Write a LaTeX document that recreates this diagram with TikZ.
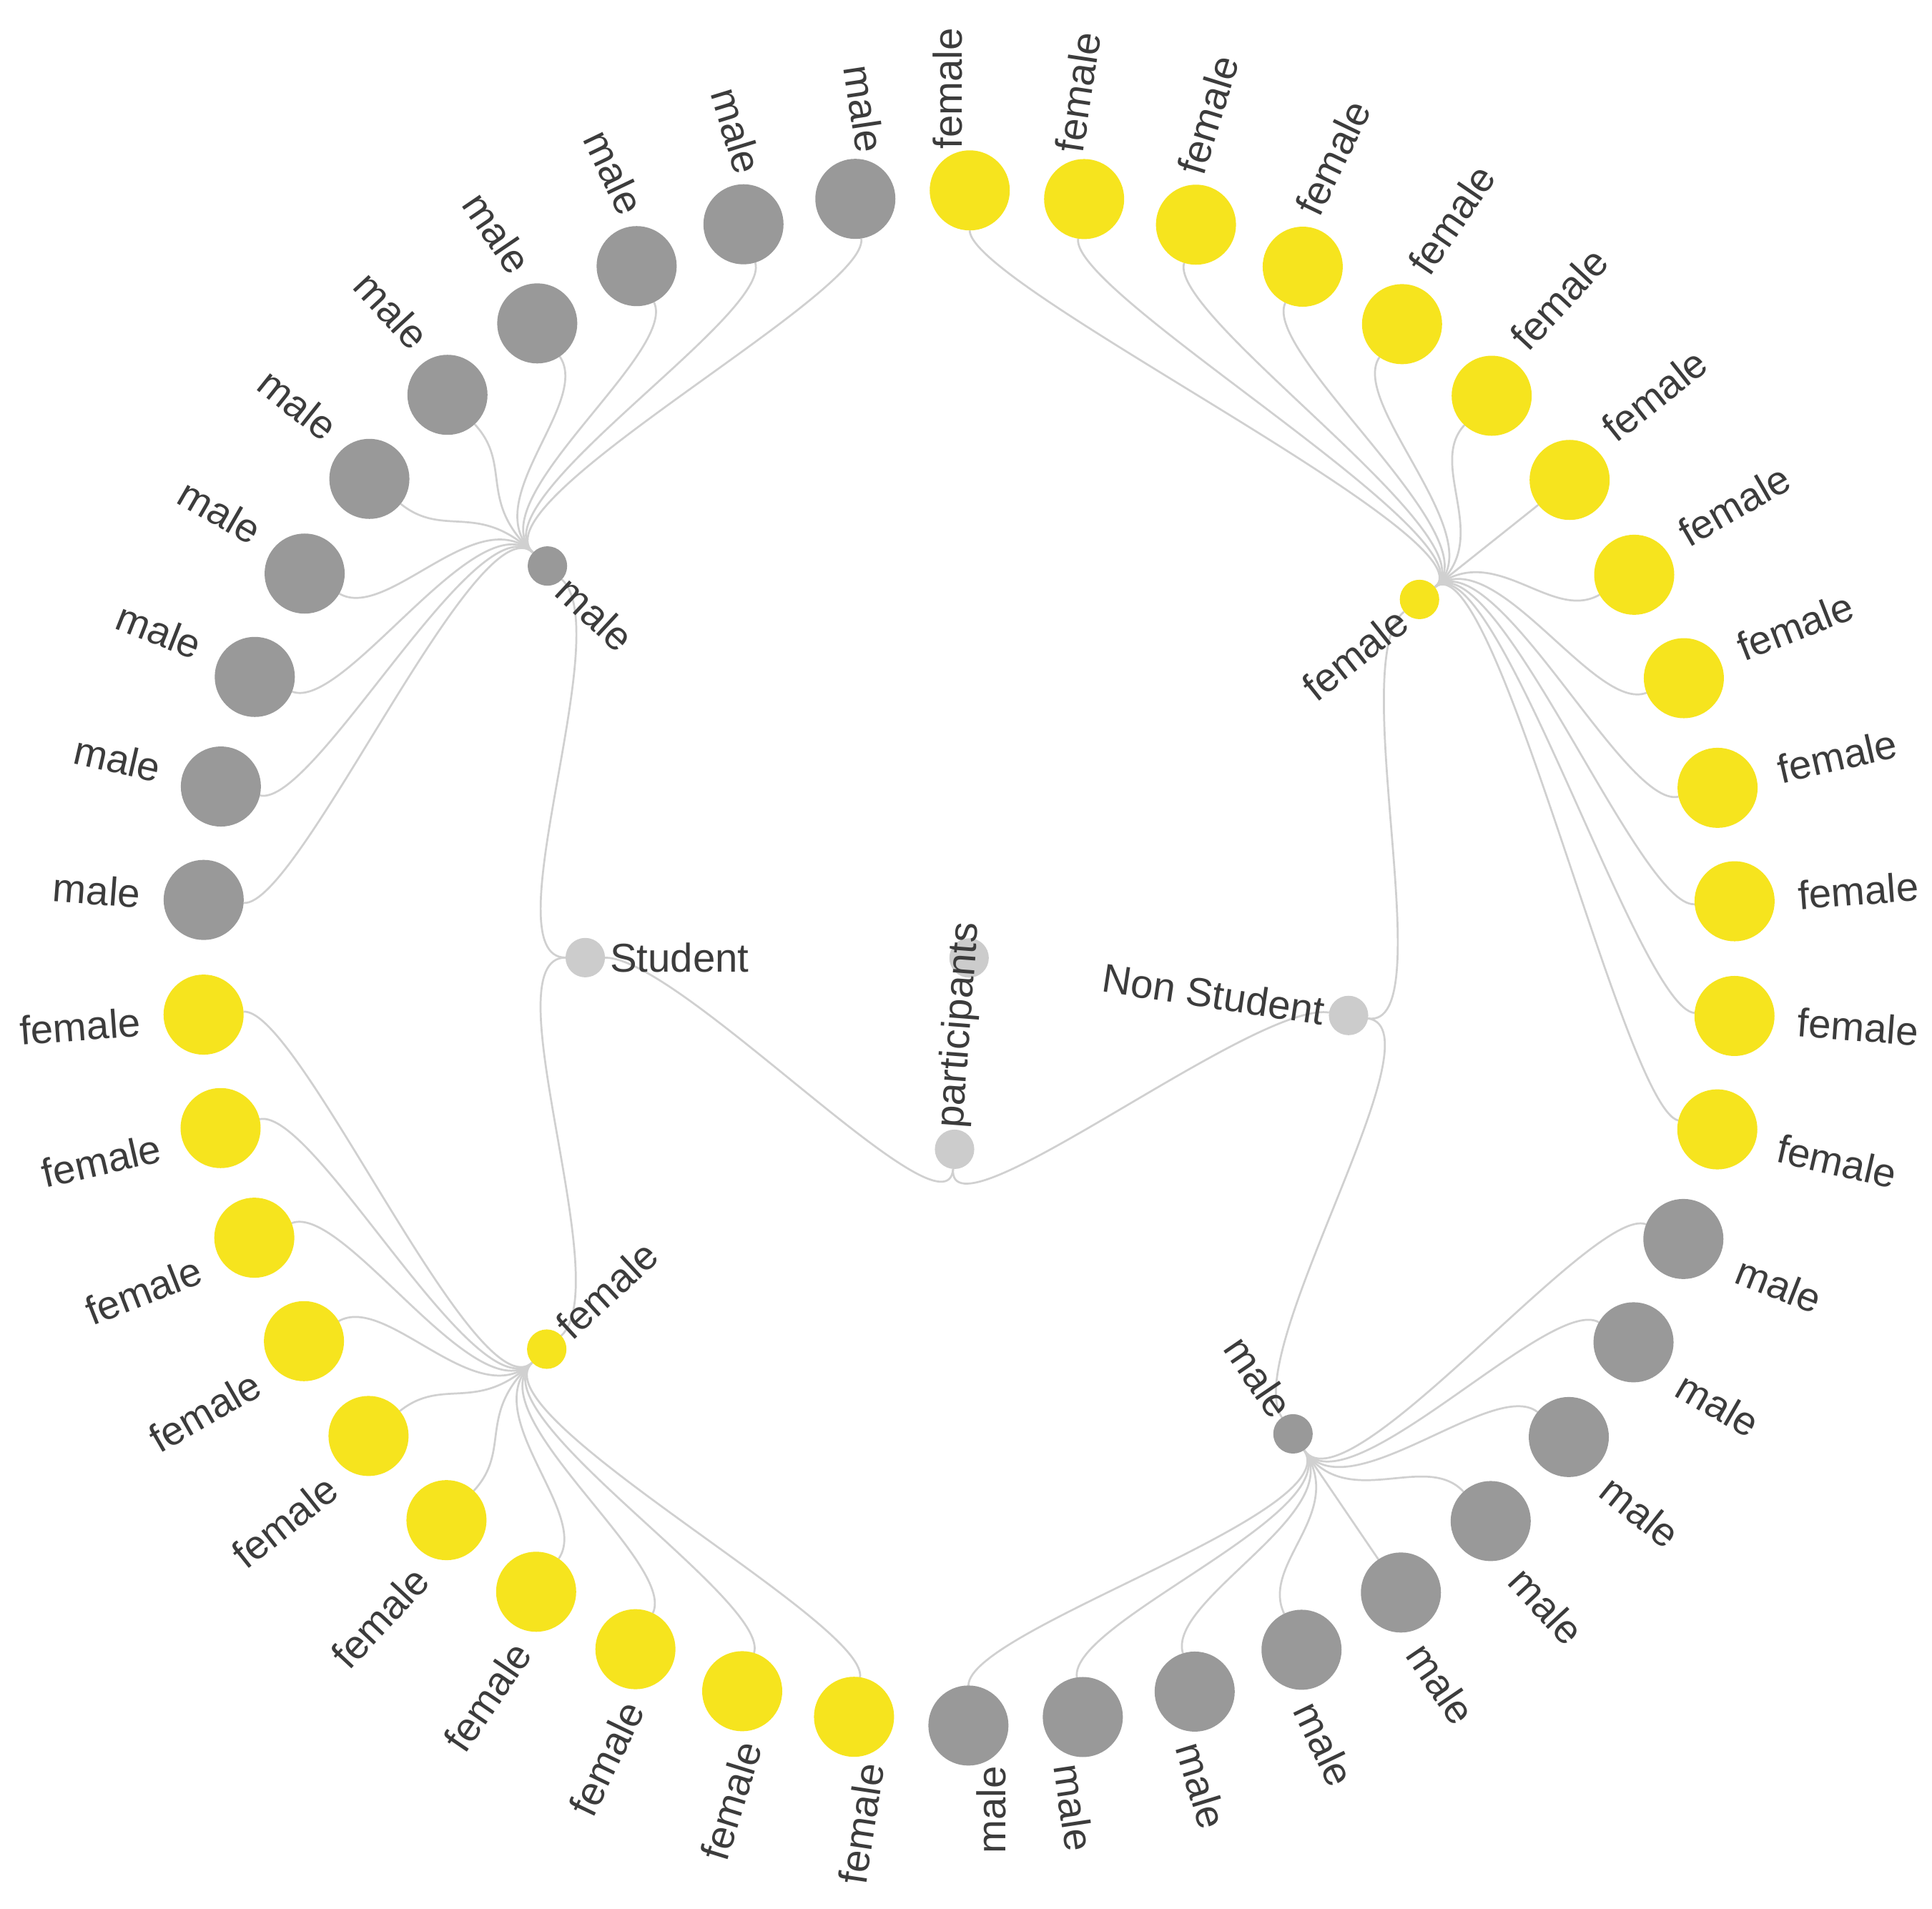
\documentclass[tikz,border=0pt]{standalone}
\usepackage{fontspec}
\setmainfont{Liberation Sans}
\usepackage{xcolor}
\usetikzlibrary{backgrounds}

\definecolor{femaleyellow}{RGB}{246,228,30}
\definecolor{malegray}{RGB}{153,153,153}
\definecolor{groupgray}{RGB}{204,204,204}
\definecolor{linkgray}{RGB}{208,208,208}
\definecolor{textgray}{RGB}{60,60,60}

\newcommand{\treeR}{6.23} % radius of the leaf ring

\begin{document}
\begin{tikzpicture}[
    leaf/.style={circle, inner sep=0pt, outer sep=0pt, minimum size=0.65cm},
    knot/.style={circle, inner sep=0pt, outer sep=0pt, minimum size=0.32cm},
    female/.style={fill=femaleyellow},
    male/.style={fill=malegray},
    group/.style={fill=groupgray},
    tag/.style={inner sep=0pt, text=textgray, font=\fontsize{9.3}{11}\selectfont},
    link/.style={draw=linkgray, line width=0.45pt},
  ]
    \useasboundingbox (-7.865,-7.715) rectangle (7.815,7.775);

    % centre of the layout
    \node[knot, group] (hub) at (0,0) {};

    % root and first level
    \node[knot, group, label={[tag, rotate=85.66, anchor=west, label distance=0.035cm]85.66:participants}] (root) at (-94.34:{0.25*\treeR}) {};
    \node[knot, group, label={[tag, rotate=-0.05, anchor=west, label distance=0.035cm]-0.05:Student}] (student) at (179.95:{0.5*\treeR}) {};
    \node[knot, group, label={[tag, rotate=-8.62, anchor=east, label distance=0.035cm]171.38:Non Student}] (nonstudent) at (-8.62:{0.5*\treeR}) {};

    % second level
    \node[knot, female, label={[tag, rotate=38.52, anchor=east, label distance=0.035cm]218.52:female}] (fTR) at (38.52:{0.75*\treeR}) {};
    \node[knot, male, label={[tag, rotate=-55.76, anchor=east, label distance=0.035cm]124.24:male}] (mBR) at (-55.76:{0.75*\treeR}) {};
    \node[knot, female, label={[tag, rotate=42.81, anchor=west, label distance=0.035cm]42.81:female}] (fBL) at (-137.19:{0.75*\treeR}) {};
    \node[knot, male, label={[tag, rotate=-42.91, anchor=west, label distance=0.035cm]-42.91:male}] (mTL) at (137.09:{0.75*\treeR}) {};

    % leaves round the ring
    \foreach \first/\last/\sex/\grp/\grpdir in {0/12/female/fTR/38.52, 13/21/male/mBR/-55.76, 22/31/female/fBL/-137.19, 32/41/male/mTL/-222.91} {
      \foreach \i in {\first,...,\last} {
        \pgfmathsetmacro{\leafang}{0.05+\i*360/42}
        \pgfmathsetmacro{\leafdir}{90-\leafang}
        \ifdim\leafang pt<180pt
          \let\leafrot\leafdir \def\leafanc{west}
        \else
          \pgfmathsetmacro{\leafrot}{\leafdir+180} \def\leafanc{east}
        \fi
        \node[leaf, \sex, label={[tag, rotate=\leafrot, anchor=\leafanc, label distance=0.185cm]\leafdir:\sex}] (l\i) at (\leafdir:\treeR) {};
        \begin{scope}[on background layer]
          \draw[link] (\grp) .. controls (\grpdir:{0.875*\treeR}) and (\leafdir:{0.875*\treeR}) .. (l\i);
        \end{scope}
      }
    }

    % links between the inner levels
    \begin{scope}[on background layer]
      \draw[link] (root) .. controls (-94.34:{0.375*\treeR}) and (179.95:{0.375*\treeR}) .. (student);
      \draw[link] (root) .. controls (-94.34:{0.375*\treeR}) and (-8.62:{0.375*\treeR}) .. (nonstudent);
      \draw[link] (student) .. controls (179.95:{0.625*\treeR}) and (137.09:{0.625*\treeR}) .. (mTL);
      \draw[link] (student) .. controls (179.95:{0.625*\treeR}) and (-137.19:{0.625*\treeR}) .. (fBL);
      \draw[link] (nonstudent) .. controls (-8.62:{0.625*\treeR}) and (38.52:{0.625*\treeR}) .. (fTR);
      \draw[link] (nonstudent) .. controls (-8.62:{0.625*\treeR}) and (-55.76:{0.625*\treeR}) .. (mBR);
    \end{scope}
  \end{tikzpicture}
\end{document}
